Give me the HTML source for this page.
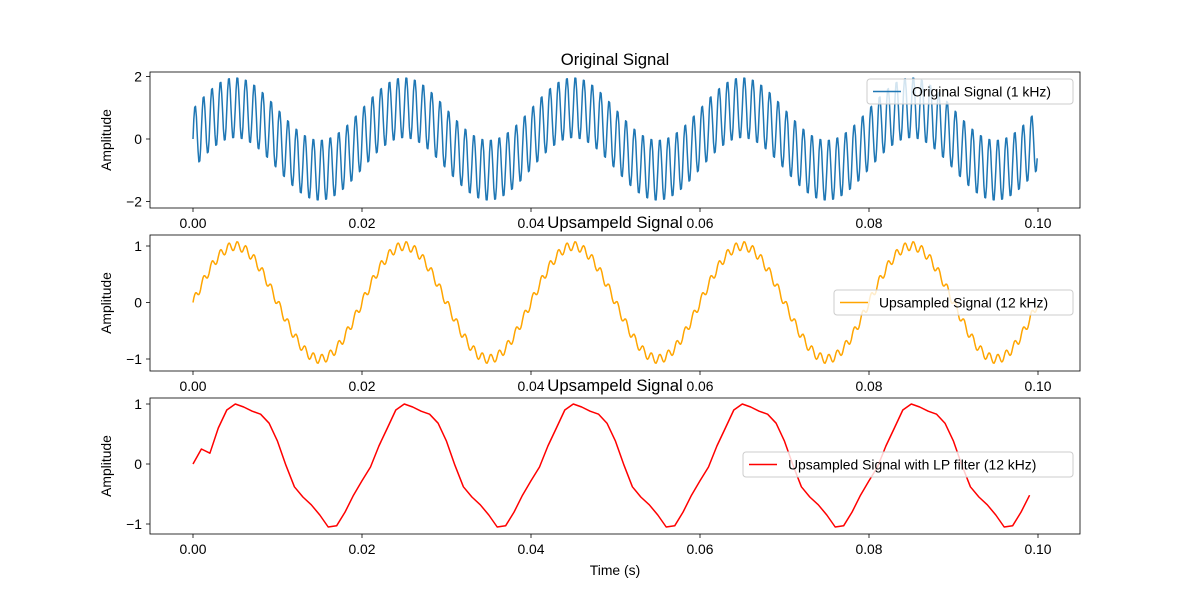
<!DOCTYPE html>
<html><head><meta charset="utf-8"><style>
body{margin:0;background:#fff;}
svg text{font-family:"Liberation Sans","DejaVu Sans",sans-serif;}
</style></head><body>
<svg id="fig" width="1200" height="600" xmlns="http://www.w3.org/2000/svg"></svg>
<script>
// Component data for the sinusoidal series
const origFreqs = [50, 1000];
const origAmps = [1, 1];
const upFreqs = [50, 1000];
const upAmps = [1, 0.08];
const xTicks = [0, 0.02, 0.04, 0.06, 0.08, 0.10];
const xTickLabels = ["0.00","0.02","0.04","0.06","0.08","0.10"];
const y1Ticks = [-2, 0, 2];
const y2Ticks = [-1, 0, 1];
// LP filtered series values (t = 0..0.099 step 0.001)
const lpCycleFirst = [0,0.25,0.18,0.6,0.9,1.0,0.95,0.88,0.83,0.68,0.38,-0.02,-0.38,-0.55,-0.68,-0.85,-1.05,-1.03,-0.8,-0.52];
const lpCycle = [-0.28,-0.05,0.3,0.6,0.9,1.0,0.95,0.88,0.83,0.68,0.38,-0.02,-0.38,-0.55,-0.68,-0.85,-1.05,-1.03,-0.8,-0.52];
const lpValues = lpCycleFirst.concat(lpCycle, lpCycle, lpCycle, lpCycle);

const svg = document.getElementById('fig');
const NS = 'http://www.w3.org/2000/svg';
function mk(tag, attrs, parent){const e=document.createElementNS(NS,tag);for(const k in attrs)e.setAttribute(k,attrs[k]);(parent||svg).appendChild(e);return e;}
const xS = t => 193 + t*8450;
const FS = 13.9, TFS = 16.7;
const axes = [
 {top:72,bot:208,yz:139,yu:31.25,ticks:y1Ticks,title:"Original Signal",name:"original"},
 {top:235,bot:371,yz:302.5,yu:56.5,ticks:y2Ticks,title:"Upsampeld Signal",name:"upsampled"},
 {top:398,bot:534,yz:464,yu:60,ticks:y2Ticks,title:"Upsampeld Signal",name:"filtered"}
];
axes.forEach((a,i)=>{
  const g = mk('g',{});
  
  
  xTicks.forEach((t,j)=>{
    const x=xS(t);
    mk('line',{x1:x,x2:x,y1:a.bot,y2:a.bot+4,stroke:'#000','stroke-width':0.8},g);
    const tx=mk('text',{x:x,y:a.bot+20,'font-size':FS,'text-anchor':'middle'},g);tx.textContent=xTickLabels[j];
  });
  a.ticks.forEach(v=>{
    const y=a.yz - v*a.yu;
    mk('line',{x1:146,x2:150,y1:y,y2:y,stroke:'#000','stroke-width':0.8},g);
    const tx=mk('text',{x:142,y:y+5,'font-size':FS,'text-anchor':'end'},g);tx.textContent=(v<0?'\u2212'+(-v):String(v));
  });
  const yl=mk('text',{x:0,y:0,'font-size':FS,'text-anchor':'middle',transform:`translate(111,${(a.top+a.bot)/2}) rotate(-90)`},g);yl.textContent='Amplitude';
  const tt=mk('text',{x:615,y:a.top-7,'font-size':TFS,'text-anchor':'middle'},g);tt.textContent=a.title;
  a.g=g;
});
function addLine(a, pts, color, name){
  const p = mk('polyline',{points:pts.map(q=>q[0].toFixed(1)+','+q[1].toFixed(1)).join(' '),fill:'none',stroke:color,'stroke-width':1.5,'stroke-linejoin':'round'},a.g);
  
  
}
function synth(freqs, amps, t){let s=0;for(let k=0;k<freqs.length;k++)s+=amps[k]*Math.sin(2*Math.PI*freqs[k]*t);return s;}
let p1=[],p2=[],p3=[];
for(let n=0;n<=999;n++){const t=n*0.0001;p1.push([xS(t),axes[0].yz-synth(origFreqs,origAmps,t)*axes[0].yu]);p2.push([xS(t),axes[1].yz-synth(upFreqs,upAmps,t)*axes[1].yu]);}
lpValues.forEach((v,n)=>p3.push([xS(n*0.001),axes[2].yz-v*axes[2].yu]));
addLine(axes[0],p1,'#1f77b4','original-signal-line');
addLine(axes[1],p2,'#ffa500','upsampled-signal-line');
addLine(axes[2],p3,'#ff0000','filtered-signal-line');
axes.forEach(a=>{mk('rect',{x:150,y:a.top,width:930,height:a.bot-a.top,fill:'none',stroke:'#000','stroke-width':0.8},a.g);});
const legends=[
 {a:0,x:867,y:79,w:206,label:'Original Signal (1 kHz)',c:'#1f77b4'},
 {a:1,x:834,y:290,w:239,label:'Upsampled Signal (12 kHz)',c:'#ffa500'},
 {a:2,x:743,y:452,w:330,label:'Upsampled Signal with LP filter (12 kHz)',c:'#ff0000'}
];
legends.forEach(L=>{
  const g=mk('g',{},axes[L.a].g);
  
  
  mk('rect',{x:L.x,y:L.y,width:L.w,height:25,rx:3,fill:'#fff','fill-opacity':0.8,stroke:'#ccc','stroke-width':1},g);
  mk('line',{x1:L.x+6,x2:L.x+34,y1:L.y+12.5,y2:L.y+12.5,stroke:L.c,'stroke-width':1.5},g);
  const t=mk('text',{x:L.x+45,y:L.y+17.5,'font-size':FS},g);t.textContent=L.label;
});
const xl=mk('text',{x:615,y:575,'font-size':FS,'text-anchor':'middle'});


xl.textContent='Time (s)';
</script>
</body></html>
